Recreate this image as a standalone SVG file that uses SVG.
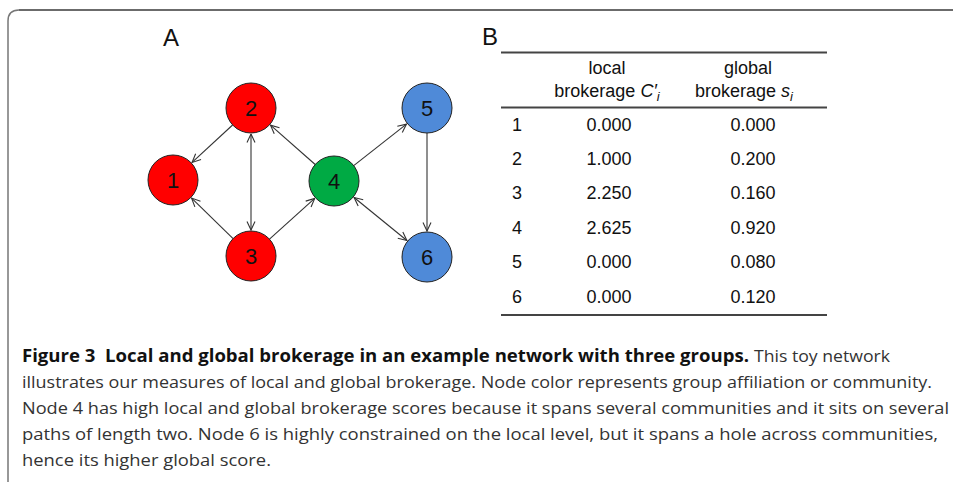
<svg xmlns="http://www.w3.org/2000/svg" width="953" height="482" viewBox="0 0 953 482">
<style>
.lbl{font-family:"Liberation Sans",Arial,sans-serif;font-size:24px;fill:#111}
.node circle{stroke:#222;stroke-width:1}
.node text{font-family:"Liberation Sans",Arial,sans-serif;font-size:22px;fill:#111;text-anchor:middle}
.red{fill:#ff0000}.green{fill:#00aa44}.blue{fill:#4f8ad8}
.edge{stroke:#333;stroke-width:1.1;fill:none}
.tb{font-family:"Liberation Sans",Arial,sans-serif;font-size:18px;fill:#111}
.mid{text-anchor:middle}
.rule{stroke:#444;stroke-width:1.8}
.cap{font-family:"Open Sans","Noto Sans",sans-serif;font-size:17px;fill:#333}
.capb{font-family:"Open Sans","Noto Sans",sans-serif;font-size:17px;font-weight:bold;fill:#111}
</style>
<defs>
<marker id="ah" viewBox="0 0 10 10" refX="9.5" refY="5" markerWidth="10" markerHeight="10" markerUnits="userSpaceOnUse" orient="auto-start-reverse">
<path d="M1,1 L9.5,5 L1,9" fill="none" stroke="#333" stroke-width="1.1"/>
</marker>
</defs>
<rect width="953" height="482" fill="#fff"/>
<g id="frame">
<path d="M8,482 L8,21 Q8,10 19,10" fill="none" stroke="#777" stroke-width="1.5"/>
<path d="M19,10 L953,10" fill="none" stroke="#3a3a3a" stroke-width="1.5"/>
</g>
<text class="lbl" x="163" y="46">A</text>
<text class="lbl" x="482" y="45">B</text>
<g id="connectors">
<line class="edge" x1="232.6" y1="125" x2="192.1" y2="162.4" marker-end="url(#ah)"/>
<line class="edge" x1="251" y1="134" x2="251" y2="230" marker-start="url(#ah)" marker-end="url(#ah)"/>
<line class="edge" x1="315.2" y1="164.5" x2="270.5" y2="125.2" marker-end="url(#ah)"/>
<line class="edge" x1="233.1" y1="238.6" x2="191.6" y2="198.1" marker-end="url(#ah)"/>
<line class="edge" x1="269.5" y1="239.2" x2="314.7" y2="198.4" marker-end="url(#ah)"/>
<line class="edge" x1="353.7" y1="165.6" x2="406.5" y2="124.1" marker-end="url(#ah)"/>
<line class="edge" x1="427" y1="133" x2="427" y2="231" marker-end="url(#ah)"/>
<line class="edge" x1="354.1" y1="197.5" x2="406.9" y2="240.5" marker-start="url(#ah)" marker-end="url(#ah)"/>
</g>
<g id="node1" class="node"><circle class="red" cx="173" cy="180" r="25"/><text x="173" y="188">1</text></g>
<g id="node2" class="node"><circle class="red" cx="251" cy="108" r="25"/><text x="251" y="116">2</text></g>
<g id="node3" class="node"><circle class="red" cx="251" cy="256" r="25"/><text x="251" y="264">3</text></g>
<g id="node4" class="node"><circle class="green" cx="334" cy="181" r="25"/><text x="334" y="189">4</text></g>
<g id="node5" class="node"><circle class="blue" cx="427" cy="108" r="25"/><text x="427" y="116">5</text></g>
<g id="node6" class="node"><circle class="blue" cx="427" cy="257" r="25"/><text x="427" y="265">6</text></g>
<g id="table">
<line class="rule" x1="501" y1="52.5" x2="827" y2="52.5"/>
<line class="rule" x1="501" y1="107.5" x2="827" y2="107.5"/>
<line class="rule" x1="501" y1="315" x2="827" y2="315"/>
<text class="tb mid" x="607" y="74">local</text>
<text class="tb mid" x="607" y="97">brokerage <tspan font-style="italic">C′</tspan><tspan font-style="italic" font-size="13" dy="4">i</tspan></text>
<text class="tb mid" x="748" y="74">global</text>
<text class="tb mid" x="744" y="97">brokerage <tspan font-style="italic">s</tspan><tspan font-style="italic" font-size="13" dy="4">i</tspan></text>
<text class="tb" x="512" y="131">1</text><text class="tb mid" x="609" y="131">0.000</text><text class="tb mid" x="753" y="131">0.000</text>
<text class="tb" x="512" y="165">2</text><text class="tb mid" x="609" y="165">1.000</text><text class="tb mid" x="753" y="165">0.200</text>
<text class="tb" x="512" y="199">3</text><text class="tb mid" x="609" y="199">2.250</text><text class="tb mid" x="753" y="199">0.160</text>
<text class="tb" x="512" y="234">4</text><text class="tb mid" x="609" y="234">2.625</text><text class="tb mid" x="753" y="234">0.920</text>
<text class="tb" x="512" y="268">5</text><text class="tb mid" x="609" y="268">0.000</text><text class="tb mid" x="753" y="268">0.080</text>
<text class="tb" x="512" y="303">6</text><text class="tb mid" x="609" y="303">0.000</text><text class="tb mid" x="753" y="303">0.120</text>
</g>
<g id="caption">
<text class="capb" x="22" y="362" textLength="727" lengthAdjust="spacingAndGlyphs">Figure 3&#160; Local and global brokerage in an example network with three groups.</text>
<text class="cap" x="754" y="362" textLength="136" lengthAdjust="spacingAndGlyphs">This toy network</text>
<text class="cap" x="22" y="388" textLength="910" lengthAdjust="spacingAndGlyphs">illustrates our measures of local and global brokerage. Node color represents group affiliation or community.</text>
<text class="cap" x="22" y="414" textLength="927" lengthAdjust="spacingAndGlyphs">Node 4 has high local and global brokerage scores because it spans several communities and it sits on several</text>
<text class="cap" x="22" y="440" textLength="916" lengthAdjust="spacingAndGlyphs">paths of length two. Node 6 is highly constrained on the local level, but it spans a hole across communities,</text>
<text class="cap" x="22" y="466" textLength="249" lengthAdjust="spacingAndGlyphs">hence its higher global score.</text>
</g>
</svg>
